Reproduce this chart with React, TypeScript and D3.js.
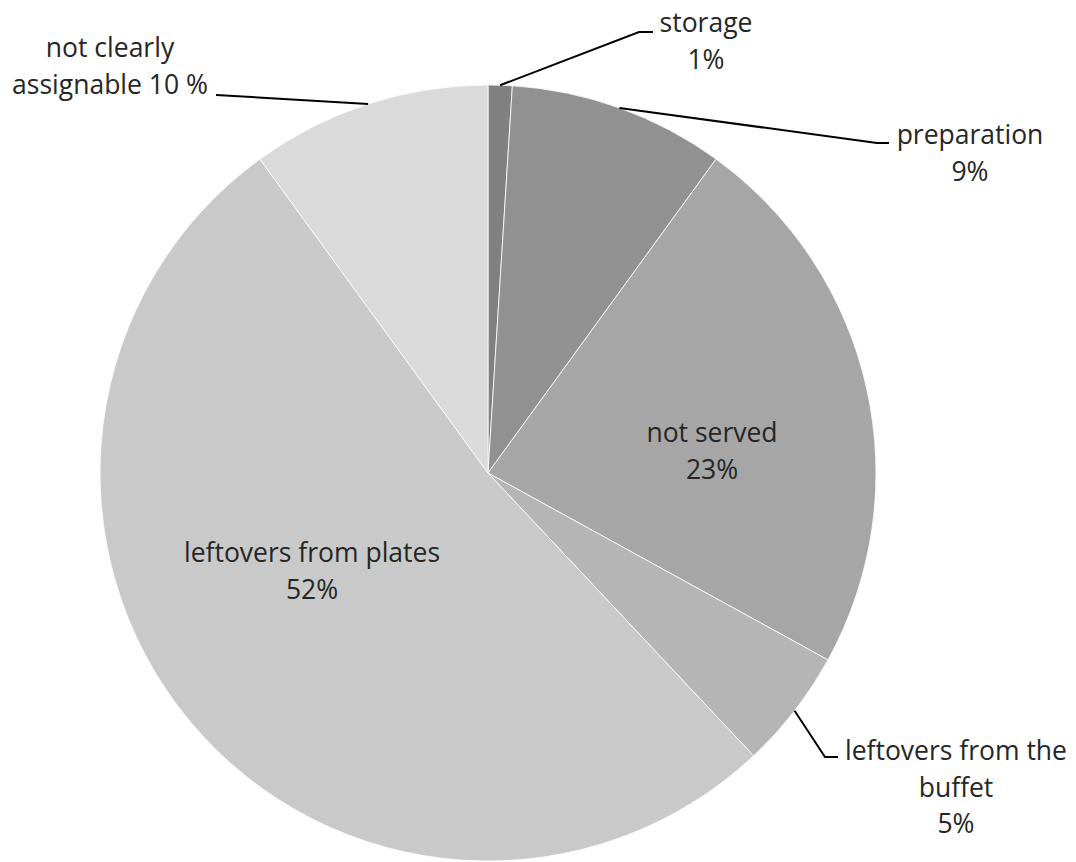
import React from "react";
import * as d3 from "d3";

const categories = [
  "storage",
  "preparation",
  "not served",
  "leftovers from the buffet",
  "leftovers from plates",
  "not clearly assignable",
];
const values = [1, 9, 23, 5, 52, 10];
const valueLabels = ["1%", "9%", "23%", "5%", "52%", "10 %"];
const colors = ["#808080", "#919191", "#a6a6a6", "#b5b5b5", "#c9c9c9", "#dadada"];

// label layout (line breaks), keyed by category index
const labelLines = [
  ["storage", "1%"],
  ["preparation", "9%"],
  ["not served", "23%"],
  ["leftovers from the", "buffet", "5%"],
  ["leftovers from plates", "52%"],
  ["not clearly", "assignable 10 %"],
];

const W = 1076;
const H = 862;
const cx = 488;
const cy = 473;
const R = 388;
const FONT = "'Open Sans', sans-serif";
const FS = 26.5;
const LH = 36.5;

type Lbl = { x: number; y: number; inside: boolean; elbow?: [number, number]; end?: [number, number] };
const labelPos: Lbl[] = [
  { x: 706, y: 32, inside: false, elbow: [639, 32], end: [653, 32] },
  { x: 970, y: 144, inside: false, elbow: [877, 143], end: [889, 143] },
  { x: 712, y: 442, inside: true },
  { x: 956, y: 760, inside: false, elbow: [825, 757], end: [838, 757] },
  { x: 312, y: 562, inside: true },
  { x: 110, y: 57, inside: false, elbow: [216, 95], end: [368, 106] },
];

export default function App() {
  const pie = d3.pie<number>().sort(null).value((d) => d)(values);
  const arc = d3.arc<d3.PieArcDatum<number>>().innerRadius(0).outerRadius(R);

  return (
    <svg
      width={W}
      height={H}
      style={{ position: "absolute", left: 0, top: 0, background: "#fff" }}
      fontFamily={FONT}
    >
      <g transform={`translate(${cx},${cy})`}>
        {pie.map((p, i) => (
          <path key={i} d={arc(p) || ""} fill={colors[i]} stroke="#ffffff" strokeWidth={0.8} />
        ))}
      </g>
      {pie.map((p, i) => {
        const lp = labelPos[i];
        if (lp.inside || !lp.elbow || !lp.end) return null;
        const mid = (p.startAngle + p.endAngle) / 2;
        const sx = cx + R * Math.sin(mid);
        const sy = cy - R * Math.cos(mid);
        let pts: [number, number][];
        if (i === 5) {
          pts = [lp.elbow, [sx, sy]];
        } else {
          pts = [[sx, sy], lp.elbow, lp.end];
        }
        return (
          <polyline
            key={"l" + i}
            points={pts.map((q) => q.join(",")).join(" ")}
            fill="none"
            stroke="#000"
            strokeWidth={2}
          />
        );
      })}
      {labelLines.map((lines, i) => {
        const lp = labelPos[i];
        return (
          <text key={"t" + i} x={lp.x} y={lp.y} textAnchor="middle" fontSize={FS} fill="#262626">
            {lines.map((s, j) => (
              <tspan key={j} x={lp.x} y={lp.y + j * LH}>
                {s}
              </tspan>
            ))}
          </text>
        );
      })}
    </svg>
  );
}
